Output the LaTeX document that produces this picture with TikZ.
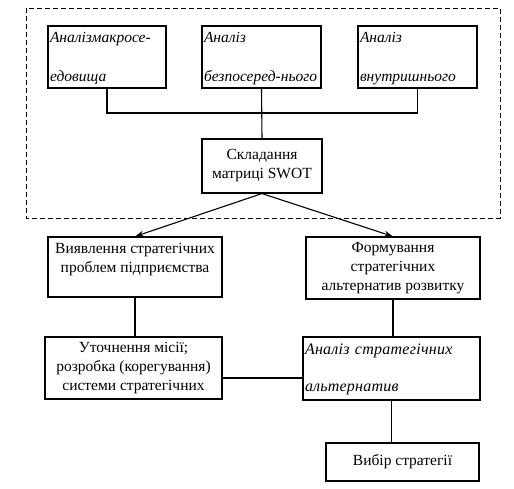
\documentclass[tikz,border=0pt]{standalone}
\usepackage{fontspec}
\setmainfont{Liberation Serif}
\usetikzlibrary{arrows.meta}

\tikzset{
	box/.style={draw, rectangle, inner sep=2pt, align=center,
	            font=\fontsize{15.5}{19}\selectfont},
	italbox/.style={box, align=left, inner xsep=2pt,
	                font=\fontsize{15.5}{19}\selectfont\itshape},
}

\begin{document}
\begin{tikzpicture}[line width=1.1pt, x=1pt, y=-1pt]
	\useasboundingbox (0,0) rectangle (514,488);
	
	% Environment analysis
	\node (macro) at (107,57)
	      [ italbox
	      , text width=114pt
	      , minimum height=62pt]
	      {\strut Аналізмакросе-\\[20pt]едовища};
	\node (direct) at (261.5,57)
	      [ italbox
	      , text width=115pt
	      , minimum height=62pt]
	      {\strut Аналіз\\[20pt]\mbox{безпосеред-нього}};
	\node (inner) at (417.5,57)
	      [ italbox
	      , text width=115pt
	      , minimum height=62pt]
	      {\strut Аналіз\\[20pt]внутришнього};
	
	\node (swot) at (262,166)
	      [ box
	      , minimum width=120pt
	      , minimum height=54pt]
	      {Складання\\матриці SWOT};
	
	% Outline around analysis
	\draw [line width=1pt, dash pattern=on 5pt off 3pt]
	      (26,8) rectangle (500,218);
	
	% Strategy steps
	\node (reveal) at (135,267)
	      [ box
	      , minimum width=174pt
	      , minimum height=60pt]
	      {Виявлення стратегічних\\проблем підприємства\\\mbox{}};
	\node (form) at (393,268)
	      [ box
	      , minimum width=174pt
	      , minimum height=62pt]
	      {Формування\\стратегічних\\альтернатив розвитку};
	\node (mission) at (133.5,368)
	      [ box
	      , minimum width=177pt
	      , minimum height=62pt]
	      {Уточнення місії;\\розробка (корегування)\\системи стратегічних};
	\node (altern) at (391.5,368.5)
	      [ italbox
	      , text width=173pt
	      , minimum height=63pt
	      , font=\fontsize{16}{19}\selectfont\itshape\addfontfeature{LetterSpace=1.6}]
	      {\strut Аналіз стратегічних\\[18pt]альтернатив};
	\node (choice) at (402.5,462)
	      [ box
	      , minimum width=153pt
	      , minimum height=38pt]
	      {Вибір стратегії};
	
	% Links
	\coordinate (bus) at (direct.south |- 0,113);
	\draw (macro.south) |- (bus) -| (inner.south);
	\draw (direct.south) -- (swot.north);
	\foreach \dest in {reveal,form}{
		\draw [-{Stealth[length=9pt,width=6pt]}] (swot.south) -- (\dest.north);
	}
	\draw (reveal.south) -- (reveal.south |- mission.north);
	\draw (form.south) -- (form.south |- altern.north);
	\draw ([yshift=-10pt]mission.east) -- ([yshift=-10pt]mission.east -| altern.west);
	\draw (altern.south) -- (altern.south |- choice.north);
\end{tikzpicture}
\end{document}
